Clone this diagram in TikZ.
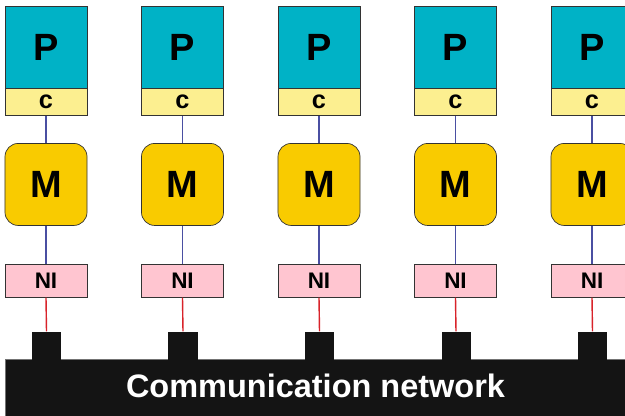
\documentclass[tikz,border=0pt]{standalone}
\usepackage{fontspec}
\setmainfont{Liberation Sans}
\usetikzlibrary{positioning}
\definecolor{proccyan}{HTML}{00B2C6}
\definecolor{cacheyellow}{HTML}{FCEF90}
\definecolor{memgold}{HTML}{F9CB00}
\definecolor{nipink}{HTML}{FFC5D0}
\definecolor{netblack}{HTML}{141414}
\definecolor{linkblue}{HTML}{4A4FA2}
\definecolor{linkred}{HTML}{D8232A}
\tikzset{
  procbox/.style  = {rectangle, draw=black!80, line width=0.5pt, fill=proccyan,
                     minimum width=2.05cm, minimum height=2.05cm, inner sep=0pt,
                     font=\fontsize{27}{28}\selectfont\bfseries},
  cachebox/.style = {rectangle, draw=black!80, line width=0.5pt, fill=cacheyellow,
                     minimum width=2.05cm, minimum height=0.675cm, inner sep=0pt,
                     font=\fontsize{18}{19}\selectfont\bfseries},
  membox/.style   = {rectangle, rounded corners=0.33cm, draw=black!80, line width=0.5pt,
                     fill=memgold, minimum width=2.05cm, minimum height=2.05cm,
                     inner sep=0pt, font=\fontsize{27}{28}\selectfont\bfseries},
  nibox/.style    = {rectangle, draw=black!80, line width=0.5pt, fill=nipink,
                     minimum width=2.05cm, minimum height=0.825cm, inner sep=0pt,
                     font=\fontsize{16}{17}\selectfont\bfseries},
  tabbox/.style   = {rectangle, fill=netblack, minimum width=0.725cm,
                     minimum height=0.7cm, inner sep=0pt},
  bluelink/.style = {draw=linkblue, line width=1pt},
  redlink/.style  = {draw=linkred, line width=1pt},
}

\begin{document}
\begin{tikzpicture}[x=0.025cm,y=-0.025cm]
  \useasboundingbox (0,0) rectangle (625,415);
  \clip (0,0) rectangle (625,415);

  % network
  \fill[netblack] (5,359) rectangle (640,430);
  \draw[black!55, line width=0.4pt] (5,430) -- (5,359) -- (640,359);
  \node[text=white, font=\fontsize{23.1}{24}\selectfont\bfseries] (net) at (315.5,386)
    {Communication network};

  % nodes
  \foreach \i/\x in {1/46,2/182.5,3/319,4/455.5,5/592} {
    \node[procbox] (P\i) at (\x,47) {P};
    \node[cachebox, below=0pt of P\i] (c\i) {c};
    \node[membox, below=0.675cm of c\i] (M\i) {M};
    \node[nibox, below=0.95cm of M\i] (NI\i) {NI};
    \node[tabbox, anchor=south] (tab\i) at (\x+0.5,360) {};
    \draw[bluelink] (c\i.south) -- (M\i.north);
    \draw[bluelink] (M\i.south) -- (NI\i.north);
    \draw[redlink] (NI\i.south) -- (tab\i.north);
  }
\end{tikzpicture}
\end{document}
